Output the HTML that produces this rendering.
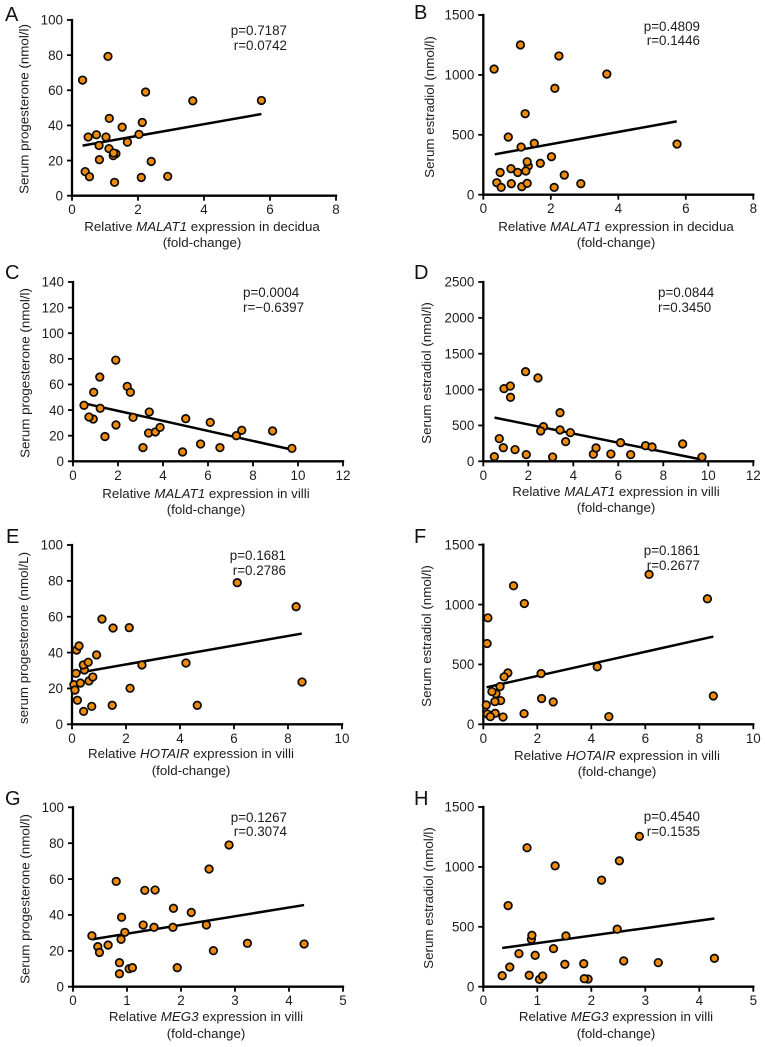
<!DOCTYPE html>
<html lang="en">
<head>
<meta charset="utf-8">
<title>Correlation scatter plots</title>
<style>
html,body{margin:0;padding:0;background:#fff;}
svg{display:block;filter:blur(0.3px);}
text{font-family:"Liberation Sans",sans-serif;fill:#1c1c1c;}
.t{font-size:13.4px;}
.a{font-size:13.35px;text-anchor:middle;}
.s{font-size:13.4px;}
.e{font-size:13.4px;text-anchor:end;}
.l{font-size:20px;fill:#111;}
</style>
</head>
<body>
<svg id="figure" xmlns="http://www.w3.org/2000/svg" width="765" height="1047" viewBox="0 0 765 1047">
  <rect width="765" height="1047" fill="#fff"/>

  <g id="panel-a">
    <text class="l" x="5" y="21">A</text>
    <text class="a" transform="translate(28.5,109) rotate(-90)">Serum progesterone (nmol/l)</text>
    <text class="a" x="202" y="231">Relative <tspan font-style="italic">MALAT1</tspan> expression in decidua</text>
    <text class="a" x="202" y="247">(fold-change)</text>
    <text class="e" x="287" y="35">p=0.7187</text>
    <text class="e" x="287" y="50">r=0.0742</text>
  </g>

  <g id="panel-b">
    <text class="l" x="414" y="19">B</text>
    <text class="a" transform="translate(434,107) rotate(-90)">Serum estradiol (nmol/l)</text>
    <text class="a" x="616" y="231">Relative <tspan font-style="italic">MALAT1</tspan> expression in decidua</text>
    <text class="a" x="616" y="247">(fold-change)</text>
    <text class="e" x="700" y="31">p=0.4809</text>
    <text class="e" x="700" y="45">r=0.1446</text>
  </g>

  <g id="panel-c">
    <text class="l" x="5" y="279">C</text>
    <text class="a" transform="translate(29.5,373) rotate(-90)">Serum progesterone (nmol/l)</text>
    <text class="a" x="206" y="498">Relative <tspan font-style="italic">MALAT1</tspan> expression in villi</text>
    <text class="a" x="206" y="514">(fold-change)</text>
    <text class="s" x="243" y="297">p=0.0004</text>
    <text class="s" x="243" y="312">r=−0.6397</text>
  </g>

  <g id="panel-d">
    <text class="l" x="414" y="279">D</text>
    <text class="a" transform="translate(431,373) rotate(-90)">Serum estradiol (nmol/l)</text>
    <text class="a" x="616" y="496">Relative <tspan font-style="italic">MALAT1</tspan> expression in villi</text>
    <text class="a" x="616" y="512">(fold-change)</text>
    <text class="s" x="658" y="297">p=0.0844</text>
    <text class="s" x="658" y="312">r=0.3450</text>
  </g>

  <g id="panel-e">
    <text class="l" x="6" y="543">E</text>
    <text class="a" transform="translate(28,638) rotate(-90)">serum progesterone (nmol/L)</text>
    <text class="a" x="191" y="758">Relative <tspan font-style="italic">HOTAIR</tspan> expression in villi</text>
    <text class="a" x="191" y="775">(fold-change)</text>
    <text class="e" x="286" y="560">p=0.1681</text>
    <text class="e" x="286" y="575">r=0.2786</text>
  </g>

  <g id="panel-f">
    <text class="l" x="414" y="543">F</text>
    <text class="a" transform="translate(431,636) rotate(-90)">Serum estradiol (nmol/l)</text>
    <text class="a" x="617" y="760">Relative <tspan font-style="italic">HOTAIR</tspan> expression in villi</text>
    <text class="a" x="617" y="776">(fold-change)</text>
    <text class="e" x="700" y="555">p=0.1861</text>
    <text class="e" x="700" y="570">r=0.2677</text>
  </g>

  <g id="panel-g">
    <text class="l" x="5" y="805">G</text>
    <text class="a" transform="translate(29.5,899) rotate(-90)">Serum progesterone (nmol/l)</text>
    <text class="a" x="206" y="1021">Relative <tspan font-style="italic">MEG3</tspan> expression in villi</text>
    <text class="a" x="206" y="1038">(fold-change)</text>
    <text class="e" x="287" y="822">p=0.1267</text>
    <text class="e" x="287" y="836">r=0.3074</text>
  </g>

  <g id="panel-h">
    <text class="l" x="414" y="805">H</text>
    <text class="a" transform="translate(433,898) rotate(-90)">Serum estradiol (nmol/l)</text>
    <text class="a" x="616" y="1021">Relative <tspan font-style="italic">MEG3</tspan> expression in villi</text>
    <text class="a" x="616" y="1038">(fold-change)</text>
    <text class="e" x="700" y="821">p=0.4540</text>
    <text class="e" x="700" y="836">r=0.1535</text>
  </g>
</svg>

<script>
// Tick labels
const xTicksEight = [0, 2, 4, 6, 8];
const xTicksTwelve = [0, 2, 4, 6, 8, 10, 12];
const xTicksTen = [0, 2, 4, 6, 8, 10];
const xTicksFive = [0, 1, 2, 3, 4, 5];
const yTicksHundred = [0, 20, 40, 60, 80, 100];
const yTicksFifteenHundred = [0, 500, 1000, 1500];
const yTicksOneForty = [0, 20, 40, 60, 80, 100, 120, 140];
const yTicksTwentyFiveHundred = [0, 500, 1000, 1500, 2000, 2500];

// Panel A values
const aX = [0.32, 1.09, 2.23, 3.66, 5.74, 1.13, 1.52, 2.13, 2.03, 0.74, 0.49, 1.03, 0.82, 1.68, 1.12, 1.33, 1.25, 1.26, 0.83, 2.40, 0.40, 0.53, 2.10, 2.90, 1.29];
const aY = [65.8, 79.3, 59, 54, 54.2, 44, 39, 41.7, 34.9, 34.7, 33.4, 33.4, 28.6, 30.5, 26.8, 23.9, 22.8, 24.3, 20.5, 19.5, 13.7, 10.8, 10.4, 11, 7.6];
const aFitX = [0.32, 5.74];
const aFitY = [28.5, 46.5];

// Panel B values
const bX = [0.32, 1.10, 2.24, 3.66, 2.12, 1.24, 0.74, 1.12, 1.51, 5.74, 2.02, 1.33, 1.30, 1.69, 0.82, 0.50, 1.02, 1.26, 2.40, 0.40, 0.53, 0.83, 1.14, 1.30, 2.10, 2.89];
const bY = [1049, 1250, 1158, 1007, 888, 676, 481, 398, 429, 423, 317, 239, 275, 262, 217, 186, 186, 198, 164, 100, 61, 92, 67, 95, 61, 92];
const bFitX = [0.34, 5.73];
const bFitY = [337, 612];

// Panel C values
const cX = [1.90, 1.19, 0.92, 2.41, 2.55, 0.49, 1.21, 0.90, 0.71, 1.91, 1.42, 2.67, 3.39, 3.36, 3.66, 3.87, 3.11, 5.01, 4.87, 5.67, 6.10, 6.53, 7.26, 7.50, 8.87, 9.73];
const cY = [79, 65.8, 53.9, 58.5, 53.9, 43.7, 41.4, 33, 34.6, 28.4, 19.3, 34.3, 38.5, 22.1, 22.9, 26.5, 10.7, 33.3, 7.3, 13.5, 30.4, 10.7, 20, 24.2, 23.7, 10.1];
const cFitX = [0.49, 9.73];
const cFitY = [45.3, 9.1];

// Panel D values
const dX = [1.88, 2.43, 0.92, 1.20, 1.21, 3.41, 2.67, 2.55, 3.41, 3.87, 3.66, 0.71, 0.89, 1.41, 0.49, 1.91, 3.08, 4.89, 5.01, 5.67, 6.10, 6.55, 7.21, 7.50, 8.86, 9.72];
const dY = [1250, 1162, 1013, 1050, 892, 678, 483, 423, 437, 400, 274, 316, 190, 163, 65, 93, 60, 98, 186, 102, 260, 93, 218, 200, 242, 60];
const dFitX = [0.50, 9.72];
const dFitY = [609, 23];

// Panel E values
const eX = [6.12, 8.30, 8.52, 1.11, 1.52, 2.12, 4.22, 4.64, 2.59, 2.15, 1.49, 0.73, 0.43, 0.20, 0.07, 0.11, 0.31, 0.63, 0.77, 0.15, 0.46, 0.42, 0.60, 0.91, 0.17, 0.26];
const eY = [79, 65.6, 23.6, 58.7, 53.7, 53.9, 34.2, 10.6, 33.1, 20.1, 10.6, 10, 7.2, 13.4, 22.1, 19.1, 23, 24.2, 26.4, 28.4, 30.3, 33.1, 34.6, 38.7, 41.4, 43.7];
const eFitX = [0.11, 8.51];
const eFitY = [28.4, 50.6];

// Panel F values
const fX = [6.14, 8.30, 8.52, 1.12, 1.52, 0.17, 0.14, 0.91, 0.77, 0.62, 0.47, 0.32, 0.64, 0.43, 2.14, 4.22, 2.16, 2.59, 0.11, 0.15, 0.44, 0.26, 0.73, 1.51, 4.65];
const fY = [1252, 1048, 237, 1157, 1009, 889, 675, 429, 396, 315, 256, 273, 198, 190, 424, 480, 215, 187, 162, 86, 92, 64, 61, 89, 64];
const fFitX = [0.12, 8.52];
const fFitY = [309, 733];

// Panel G values
const gX = [2.89, 2.52, 0.80, 1.33, 1.52, 1.86, 2.19, 0.90, 1.30, 1.50, 1.85, 2.47, 0.96, 0.35, 0.89, 0.46, 0.65, 0.49, 2.60, 3.23, 4.28, 0.86, 1.04, 1.10, 1.93, 0.86];
const gY = [79, 65.6, 58.7, 53.7, 53.9, 43.7, 41.4, 38.7, 34.4, 33.1, 33.1, 34.4, 30.3, 28.4, 26.4, 22.3, 23.2, 19.1, 20.1, 24.2, 23.8, 13.4, 10, 10.6, 10.6, 7.2];
const gFitX = [0.35, 4.28];
const gFitY = [26.4, 45.5];

// Panel H values
const hX = [2.89, 0.81, 1.33, 2.52, 2.19, 0.46, 0.89, 0.90, 1.53, 2.48, 0.66, 0.96, 1.30, 0.49, 0.35, 0.85, 1.04, 1.10, 1.51, 1.86, 1.94, 1.87, 2.60, 3.24, 4.28];
const hY = [1255, 1160, 1009, 1051, 889, 677, 396, 429, 424, 480, 276, 262, 318, 164, 92, 95, 61, 89, 187, 192, 64, 67, 215, 201, 237];
const hFitX = [0.35, 4.28];
const hFitY = [323, 569];

const NS = 'http://www.w3.org/2000/svg';

function make(tag, parent, attrs) {
  const el = document.createElementNS(NS, tag);
  for (const k in attrs) el.setAttribute(k, attrs[k]);
  parent.appendChild(el);
  return el;
}

function drawPanel(id, box, xTicks, yTicks, xs, ys, fitX, fitY) {
  const group = document.getElementById(id);
  const xMax = xTicks[xTicks.length - 1];
  const yMax = yTicks[yTicks.length - 1];
  const sx = function (v) { return box.left + (v / xMax) * (box.right - box.left); };
  const sy = function (v) { return box.bottom - (v / yMax) * (box.bottom - box.top); };
  const axisStyle = { stroke: '#000', 'stroke-width': 2.3, 'stroke-linecap': 'square', fill: 'none' };
  const tickStyle = { stroke: '#000', 'stroke-width': 1.8, fill: 'none' };

  xTicks.forEach(function (t) {
    const mark = make('line', group, Object.assign({ x1: sx(t), x2: sx(t), y1: box.bottom, y2: box.bottom + 5 }, tickStyle));
    
    
    const label = make('text', group, { x: sx(t), y: box.bottom + 18.5, 'text-anchor': 'middle', class: 't' });
    
    
    label.textContent = t;
  });

  yTicks.forEach(function (t) {
    const mark = make('line', group, Object.assign({ x1: box.left - 5, x2: box.left, y1: sy(t), y2: sy(t) }, tickStyle));
    
    
    const label = make('text', group, { x: box.left - 9, y: sy(t) + 4.7, 'text-anchor': 'end', class: 't' });
    
    
    label.textContent = t;
  });

  const xAxis = make('line', group, Object.assign({ x1: box.left, x2: sx(xMax), y1: box.bottom, y2: box.bottom }, axisStyle));
  
  
  const yAxis = make('line', group, Object.assign({ x1: box.left, x2: box.left, y1: box.bottom, y2: sy(yMax) }, axisStyle));
  
  

  const fit = make('line', group, {
    x1: sx(fitX[0]), y1: sy(fitY[0]), x2: sx(fitX[1]), y2: sy(fitY[1]),
    stroke: '#000', 'stroke-width': 2.5
  });
  
  

  xs.forEach(function (v, i) {
    const point = make('circle', group, {
      cx: sx(v), cy: sy(ys[i]), r: 3.8,
      fill: '#ef8a0a', stroke: '#0a0a0a', 'stroke-width': 1.7
    });
    
    
  });
}

drawPanel('panel-a', { left: 72, right: 336, top: 20, bottom: 195.7 }, xTicksEight, yTicksHundred, aX, aY, aFitX, aFitY);
drawPanel('panel-b', { left: 483.3, right: 753.3, top: 15, bottom: 194.7 }, xTicksEight, yTicksFifteenHundred, bX, bY, bFitX, bFitY);
drawPanel('panel-c', { left: 73, right: 343, top: 282, bottom: 461.3 }, xTicksTwelve, yTicksOneForty, cX, cY, cFitX, cFitY);
drawPanel('panel-d', { left: 483.3, right: 753.3, top: 282, bottom: 461.3 }, xTicksTwelve, yTicksTwentyFiveHundred, dX, dY, dFitX, dFitY);
drawPanel('panel-e', { left: 72, right: 342, top: 545, bottom: 724.3 }, xTicksTen, yTicksHundred, eX, eY, eFitX, eFitY);
drawPanel('panel-f', { left: 483.3, right: 753.3, top: 544.7, bottom: 724.3 }, xTicksTen, yTicksFifteenHundred, fX, fY, fFitX, fFitY);
drawPanel('panel-g', { left: 73, right: 343, top: 807.3, bottom: 986.7 }, xTicksFive, yTicksHundred, gX, gY, gFitX, gFitY);
drawPanel('panel-h', { left: 483.3, right: 753.3, top: 807, bottom: 986.7 }, xTicksFive, yTicksFifteenHundred, hX, hY, hFitX, hFitY);
</script>
</body>
</html>
